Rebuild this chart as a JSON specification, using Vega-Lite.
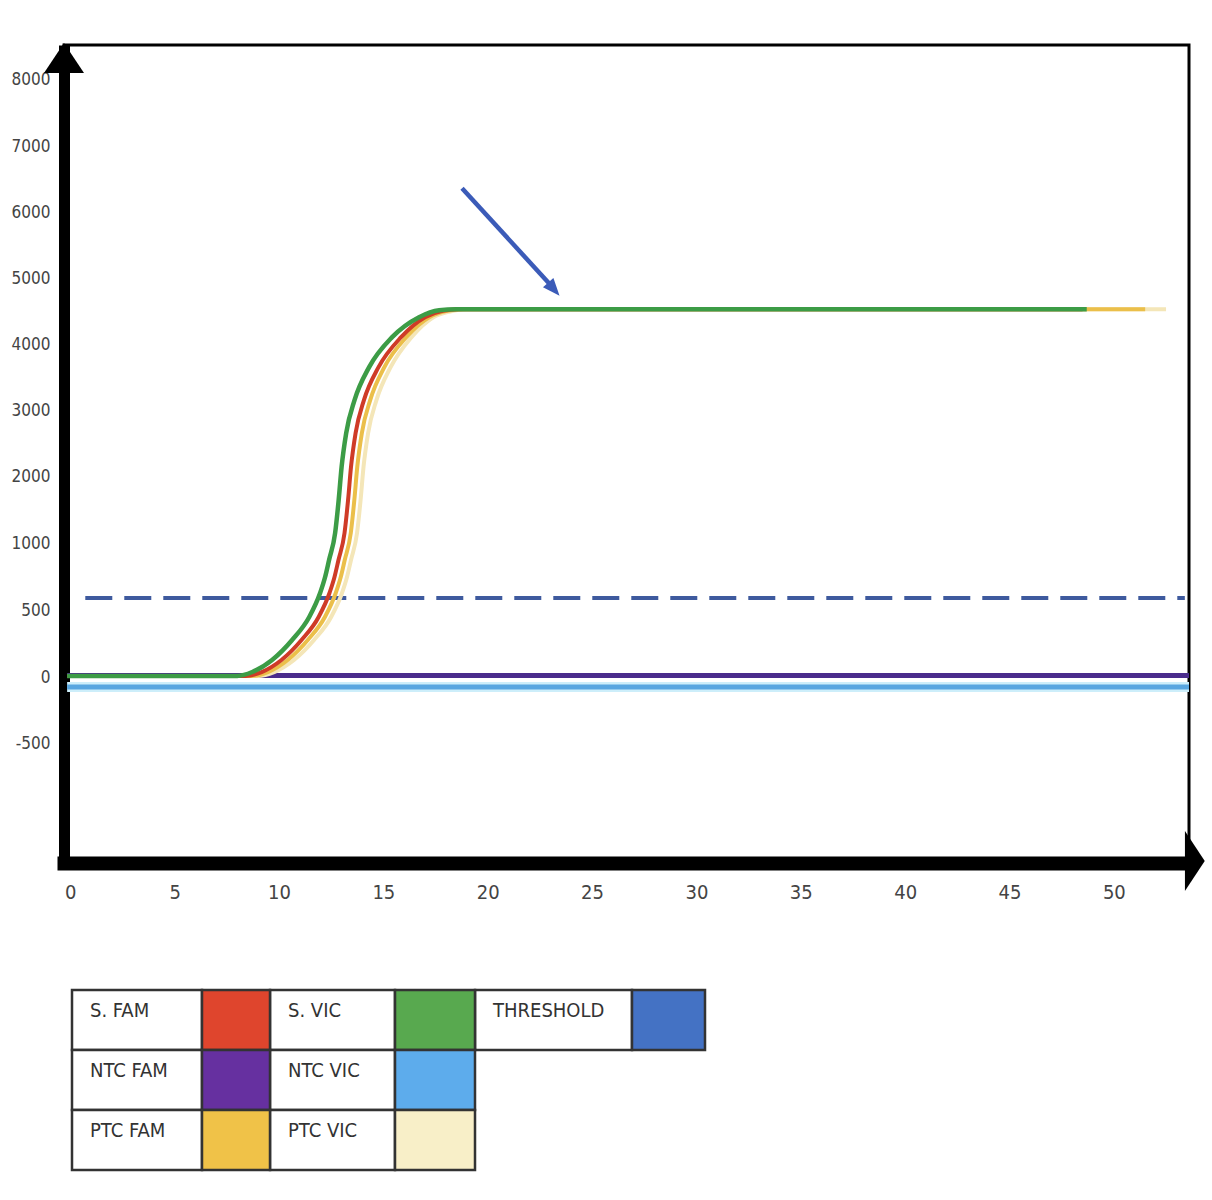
{
  "$schema": "https://vega.github.io/schema/vega-lite/v6.json",
  "background": "white",
  "padding": {"left": 9, "top": 41, "right": 5, "bottom": 5},
  "spacing": 84,
  "config": {
    "font": "Liberation Sans Narrow, Arial Narrow, DejaVu Sans Condensed, sans-serif"
  },
  "datasets": {
    "curves": [
      {"series": "NTC VIC", "cycle": -0.15, "rfu": -75},
      {"series": "NTC VIC", "cycle": 53.6, "rfu": -75},
      {"series": "NTC FAM", "cycle": -0.15, "rfu": 12},
      {"series": "NTC FAM", "cycle": 53.6, "rfu": 12},

      {"series": "PTC VIC", "cycle": -0.15, "rfu": 8},
      {"series": "PTC VIC", "cycle": 9.0, "rfu": 8},
      {"series": "PTC VIC", "cycle": 9.77, "rfu": 37},
      {"series": "PTC VIC", "cycle": 10.72, "rfu": 127},
      {"series": "PTC VIC", "cycle": 11.68, "rfu": 276},
      {"series": "PTC VIC", "cycle": 12.5, "rfu": 448},
      {"series": "PTC VIC", "cycle": 13.02, "rfu": 627},
      {"series": "PTC VIC", "cycle": 13.26, "rfu": 746},
      {"series": "PTC VIC", "cycle": 13.45, "rfu": 873},
      {"series": "PTC VIC", "cycle": 13.74, "rfu": 1151},
      {"series": "PTC VIC", "cycle": 13.91, "rfu": 1650},
      {"series": "PTC VIC", "cycle": 14.05, "rfu": 2148},
      {"series": "PTC VIC", "cycle": 14.27, "rfu": 2662},
      {"series": "PTC VIC", "cycle": 14.67, "rfu": 3160},
      {"series": "PTC VIC", "cycle": 15.35, "rfu": 3659},
      {"series": "PTC VIC", "cycle": 16.35, "rfu": 4112},
      {"series": "PTC VIC", "cycle": 17.4, "rfu": 4414},
      {"series": "PTC VIC", "cycle": 18.2, "rfu": 4500},
      {"series": "PTC VIC", "cycle": 19.0, "rfu": 4535},
      {"series": "PTC VIC", "cycle": 52.5, "rfu": 4535},

      {"series": "PTC FAM", "cycle": -0.15, "rfu": 8},
      {"series": "PTC FAM", "cycle": 8.7, "rfu": 8},
      {"series": "PTC FAM", "cycle": 9.47, "rfu": 37},
      {"series": "PTC FAM", "cycle": 10.42, "rfu": 127},
      {"series": "PTC FAM", "cycle": 11.38, "rfu": 276},
      {"series": "PTC FAM", "cycle": 12.2, "rfu": 448},
      {"series": "PTC FAM", "cycle": 12.72, "rfu": 627},
      {"series": "PTC FAM", "cycle": 12.96, "rfu": 746},
      {"series": "PTC FAM", "cycle": 13.15, "rfu": 873},
      {"series": "PTC FAM", "cycle": 13.44, "rfu": 1151},
      {"series": "PTC FAM", "cycle": 13.61, "rfu": 1650},
      {"series": "PTC FAM", "cycle": 13.75, "rfu": 2148},
      {"series": "PTC FAM", "cycle": 13.97, "rfu": 2662},
      {"series": "PTC FAM", "cycle": 14.37, "rfu": 3160},
      {"series": "PTC FAM", "cycle": 15.05, "rfu": 3659},
      {"series": "PTC FAM", "cycle": 16.1, "rfu": 4112},
      {"series": "PTC FAM", "cycle": 17.2, "rfu": 4414},
      {"series": "PTC FAM", "cycle": 18.0, "rfu": 4505},
      {"series": "PTC FAM", "cycle": 18.8, "rfu": 4535},
      {"series": "PTC FAM", "cycle": 51.5, "rfu": 4535},

      {"series": "S. FAM", "cycle": -0.15, "rfu": 8},
      {"series": "S. FAM", "cycle": 8.4, "rfu": 8},
      {"series": "S. FAM", "cycle": 9.17, "rfu": 37},
      {"series": "S. FAM", "cycle": 10.12, "rfu": 127},
      {"series": "S. FAM", "cycle": 11.08, "rfu": 276},
      {"series": "S. FAM", "cycle": 11.9, "rfu": 448},
      {"series": "S. FAM", "cycle": 12.42, "rfu": 627},
      {"series": "S. FAM", "cycle": 12.66, "rfu": 746},
      {"series": "S. FAM", "cycle": 12.85, "rfu": 873},
      {"series": "S. FAM", "cycle": 13.14, "rfu": 1151},
      {"series": "S. FAM", "cycle": 13.31, "rfu": 1650},
      {"series": "S. FAM", "cycle": 13.45, "rfu": 2148},
      {"series": "S. FAM", "cycle": 13.67, "rfu": 2662},
      {"series": "S. FAM", "cycle": 14.07, "rfu": 3160},
      {"series": "S. FAM", "cycle": 14.77, "rfu": 3659},
      {"series": "S. FAM", "cycle": 15.85, "rfu": 4112},
      {"series": "S. FAM", "cycle": 17.0, "rfu": 4414},
      {"series": "S. FAM", "cycle": 17.85, "rfu": 4510},
      {"series": "S. FAM", "cycle": 18.6, "rfu": 4535},
      {"series": "S. FAM", "cycle": 48.5, "rfu": 4535},

      {"series": "S. VIC", "cycle": -0.15, "rfu": 8},
      {"series": "S. VIC", "cycle": 8.0, "rfu": 8},
      {"series": "S. VIC", "cycle": 8.72, "rfu": 37},
      {"series": "S. VIC", "cycle": 9.67, "rfu": 127},
      {"series": "S. VIC", "cycle": 10.63, "rfu": 276},
      {"series": "S. VIC", "cycle": 11.45, "rfu": 448},
      {"series": "S. VIC", "cycle": 11.97, "rfu": 627},
      {"series": "S. VIC", "cycle": 12.21, "rfu": 746},
      {"series": "S. VIC", "cycle": 12.4, "rfu": 873},
      {"series": "S. VIC", "cycle": 12.69, "rfu": 1151},
      {"series": "S. VIC", "cycle": 12.86, "rfu": 1650},
      {"series": "S. VIC", "cycle": 13.0, "rfu": 2148},
      {"series": "S. VIC", "cycle": 13.22, "rfu": 2662},
      {"series": "S. VIC", "cycle": 13.62, "rfu": 3160},
      {"series": "S. VIC", "cycle": 14.32, "rfu": 3659},
      {"series": "S. VIC", "cycle": 15.42, "rfu": 4112},
      {"series": "S. VIC", "cycle": 16.71, "rfu": 4414},
      {"series": "S. VIC", "cycle": 17.67, "rfu": 4520},
      {"series": "S. VIC", "cycle": 18.5, "rfu": 4535},
      {"series": "S. VIC", "cycle": 48.7, "rfu": 4535}
    ],
    "threshold": [
      {"series": "THRESHOLD", "cycle": 0.72, "cycleEnd": 53.4, "rfu": 590}
    ],
    "pointer": [
      {"cycle": 18.77, "rfu": 6363, "cycleEnd": 23.1, "rfuEnd": 4870}
    ],
    "pointerTip": [
      {"cycle": 23.17, "rfu": 4838}
    ],
    "axisArrows": [
      {"axis": "y", "cycle": -0.3, "rfu": 8332},
      {"axis": "x", "cycle": 53.88, "rfu": -1381}
    ],
    "legendText": [
      {"row": 0, "col": 0, "colEnd": 1, "label": "S. FAM"},
      {"row": 0, "col": 2, "colEnd": 3, "label": "S. VIC"},
      {"row": 0, "col": 4, "colEnd": 5, "label": "THRESHOLD"},
      {"row": 1, "col": 0, "colEnd": 1, "label": "NTC FAM"},
      {"row": 1, "col": 2, "colEnd": 3, "label": "NTC VIC"},
      {"row": 2, "col": 0, "colEnd": 1, "label": "PTC FAM"},
      {"row": 2, "col": 2, "colEnd": 3, "label": "PTC VIC"}
    ],
    "legendSwatch": [
      {"row": 0, "col": 1, "colEnd": 2, "series": "S. FAM"},
      {"row": 0, "col": 3, "colEnd": 4, "series": "S. VIC"},
      {"row": 0, "col": 5, "colEnd": 6, "series": "THRESHOLD"},
      {"row": 1, "col": 1, "colEnd": 2, "series": "NTC FAM"},
      {"row": 1, "col": 3, "colEnd": 4, "series": "NTC VIC"},
      {"row": 2, "col": 1, "colEnd": 2, "series": "PTC FAM"},
      {"row": 2, "col": 3, "colEnd": 4, "series": "PTC VIC"}
    ]
  },
  "vconcat": [
    {
      "width": 1125,
      "height": 818,
      "view": {"stroke": "black", "strokeWidth": 3, "fill": "white"},
      "encoding": {
        "x": {
          "field": "cycle", "type": "quantitative", "title": null,
          "scale": {"domain": [-0.3, 53.6], "nice": false, "zero": false},
          "axis": {
            "values": [0, 5, 10, 15, 20, 25, 30, 35, 40, 45, 50],
            "grid": false, "ticks": false, "labelFlush": false,
            "domainColor": "black", "domainWidth": 14, "domainCap": "square",
            "labelFontSize": 20, "labelColor": "#444", "labelPadding": 19
          }
        },
        "y": {
          "field": "rfu", "type": "quantitative", "title": null,
          "scale": {
            "domain": [-1395, -500, 0, 500, 1000, 8529],
            "range": [818, 698, 632, 565, 498, 0],
            "nice": false, "zero": false
          },
          "axis": {
            "values": [-500, 0, 500, 1000, 2000, 3000, 4000, 5000, 6000, 7000, 8000],
            "labelExpr": "'' + datum.value",
            "grid": false, "ticks": false, "labelFlush": false,
            "domainColor": "black", "domainWidth": 11, "domainCap": "butt",
            "labelFontSize": 17, "labelColor": "#444", "labelPadding": 14
          }
        }
      },
      "layer": [
        {
          "data": {"name": "curves"},
          "transform": [{"filter": "datum.series === 'NTC VIC'"}],
          "mark": {"type": "line", "color": "#cdeefa", "strokeWidth": 10}
        },
        {
          "data": {"name": "curves"},
          "transform": [{"filter": "datum.series === 'NTC VIC'"}],
          "mark": {"type": "line", "color": "#58a6e0", "strokeWidth": 5}
        },
        {
          "data": {"name": "curves"},
          "transform": [{"filter": "datum.series === 'NTC FAM'"}],
          "mark": {"type": "line", "color": "#4a2c8c", "strokeWidth": 5}
        },
        {
          "data": {"name": "threshold"},
          "mark": {"type": "rule", "color": "#3e5a9e", "strokeWidth": 4, "strokeDash": [27, 12]},
          "encoding": {"x2": {"field": "cycleEnd"}}
        },
        {
          "data": {"name": "curves"},
          "transform": [{"filter": "datum.series === 'PTC VIC'"}],
          "mark": {"type": "line", "color": "#f4e6b8", "strokeWidth": 4, "interpolate": "monotone"}
        },
        {
          "data": {"name": "curves"},
          "transform": [{"filter": "datum.series === 'PTC FAM'"}],
          "mark": {"type": "line", "color": "#ebbf4a", "strokeWidth": 4, "interpolate": "monotone"}
        },
        {
          "data": {"name": "curves"},
          "transform": [{"filter": "datum.series === 'S. FAM'"}],
          "mark": {"type": "line", "color": "#cf3b27", "strokeWidth": 4, "interpolate": "monotone"}
        },
        {
          "data": {"name": "curves"},
          "transform": [{"filter": "datum.series === 'S. VIC'"}],
          "mark": {"type": "line", "color": "#3c9c46", "strokeWidth": 4.5, "interpolate": "monotone"}
        },
        {
          "data": {"name": "pointer"},
          "mark": {"type": "rule", "color": "#3b5bb8", "strokeWidth": 4.5},
          "encoding": {"x2": {"field": "cycleEnd"}, "y2": {"field": "rfuEnd"}}
        },
        {
          "data": {"name": "pointerTip"},
          "mark": {"type": "point", "shape": "M-0.8,1L0,-1L0.8,1Z", "size": 300, "angle": 139, "filled": true, "color": "#3b5bb8", "opacity": 1}
        },
        {
          "data": {"name": "axisArrows"},
          "transform": [{"filter": "datum.axis === 'y'"}],
          "mark": {"type": "point", "shape": "M-1,0.75L0,-0.75L1,0.75Z", "size": 1600, "filled": true, "color": "black", "opacity": 1}
        },
        {
          "data": {"name": "axisArrows"},
          "transform": [{"filter": "datum.axis === 'x'"}],
          "mark": {"type": "point", "shape": "M-0.33,-1L0.33,0L-0.33,1Z", "size": 3600, "filled": true, "color": "black", "opacity": 1}
        }
      ]
    },
    {
      "width": 645,
      "height": 180,
      "view": {"stroke": null},
      "encoding": {
        "x": {
          "field": "col", "type": "quantitative", "axis": null,
          "scale": {
            "domain": [0, 1, 2, 3, 4, 5, 6],
            "range": [8, 138, 206, 331, 411, 568, 641],
            "nice": false, "zero": false
          }
        },
        "y": {
          "field": "row", "type": "ordinal", "axis": null,
          "scale": {"domain": [0, 1, 2], "paddingInner": 0, "paddingOuter": 0}
        }
      },
      "layer": [
        {
          "data": {"name": "legendText"},
          "mark": {"type": "rect", "fill": "white", "stroke": "#333", "strokeWidth": 2.5},
          "encoding": {"x2": {"field": "colEnd"}}
        },
        {
          "data": {"name": "legendSwatch"},
          "mark": {"type": "rect", "stroke": "#333", "strokeWidth": 2.5, "opacity": 1},
          "encoding": {
            "x2": {"field": "colEnd"},
            "color": {
              "field": "series", "type": "nominal", "legend": null,
              "scale": {
                "domain": ["S. FAM", "S. VIC", "THRESHOLD", "NTC FAM", "NTC VIC", "PTC FAM", "PTC VIC"],
                "range": ["#df452d", "#58a94f", "#4472c4", "#6630a0", "#5dacec", "#f0c248", "#f8efc8"]
              }
            }
          }
        },
        {
          "data": {"name": "legendText"},
          "mark": {"type": "text", "align": "left", "baseline": "middle", "dx": 18, "dy": -9, "fontSize": 20, "color": "#333"},
          "encoding": {"text": {"field": "label"}}
        }
      ]
    }
  ]
}
